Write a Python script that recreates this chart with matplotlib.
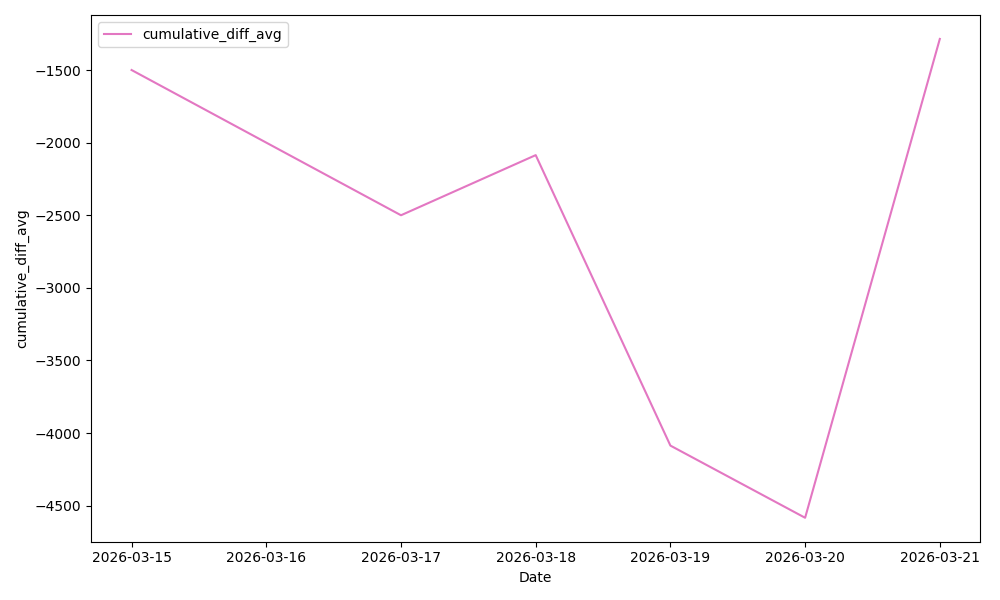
import pandas as pd
import matplotlib.pyplot as plt
import matplotlib.dates as mdates

dates = ["2026-03-15", "2026-03-17", "2026-03-18", "2026-03-19", "2026-03-20", "2026-03-21"]
cumulative_diff_avg = [-1500, -2500, -2086, -4086, -4583, -1286]

df = pd.DataFrame({"Date": pd.to_datetime(dates), "cumulative_diff_avg": cumulative_diff_avg})

fig, ax = plt.subplots(figsize=(10, 6), dpi=100)
ax.plot(df["Date"], df["cumulative_diff_avg"], color="#e377c2", label="cumulative_diff_avg")
ax.xaxis.set_major_locator(mdates.DayLocator())
ax.xaxis.set_major_formatter(mdates.DateFormatter("%Y-%m-%d"))
ax.set_xlabel("Date")
ax.set_ylabel("cumulative_diff_avg")
ax.legend(loc="upper left")

plt.tight_layout()
plt.savefig("out.png", dpi=100)
